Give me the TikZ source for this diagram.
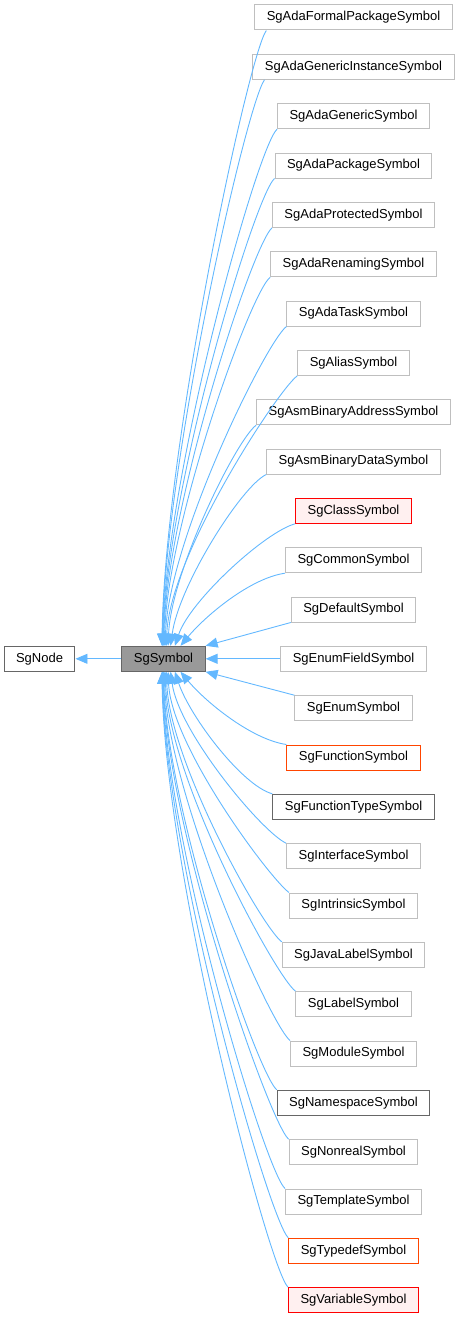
\documentclass[tikz,border=0pt]{standalone}
\usepackage{fontspec}
\setmainfont{Liberation Sans}
\usetikzlibrary{positioning,arrows.meta,calc}

\definecolor{edgeblue}{HTML}{63B8FF}
\definecolor{greyLight}{HTML}{BFBFBF}
\definecolor{greyDark}{HTML}{666666}
\definecolor{greyFill}{HTML}{999999}
\definecolor{truncFill}{HTML}{FFF0F0}
\definecolor{orangeRed}{HTML}{FF4500}

\begin{document}
\begin{tikzpicture}[
  x=1pt,y=1pt,
  font=\fontsize{13}{16}\selectfont,
  cls/.style={draw=greyLight,fill=white,line width=1pt,minimum height=25pt,inner xsep=12pt,inner ysep=0pt},
  docd/.style={cls,draw=greyDark},
  current/.style={cls,draw=greyDark,fill=greyFill},
  trunc/.style={cls,draw=red,fill=truncFill},
  partial/.style={cls,draw=orangeRed},
  inh/.style={draw=edgeblue,line width=.9pt,-{Triangle[length=12pt,width=10pt]}}
]
\useasboundingbox (0,0) rectangle (459,-1319);
% base and current class
\node[docd] (base) at (39.5,-658.8) {SgNode};
\node[current] (sym) at (163.5,-658.8) {SgSymbol};
% derived classes
\node[cls] (c0) at (353.5,-17.5) {SgAdaFormalPackageSymbol};
\node[cls] (c1) at (353.5,-66.8) {SgAdaGenericInstanceSymbol};
\node[cls] (c2) at (353.5,-116.2) {SgAdaGenericSymbol};
\node[cls] (c3) at (353.5,-165.5) {SgAdaPackageSymbol};
\node[cls] (c4) at (353.5,-214.8) {SgAdaProtectedSymbol};
\node[cls] (c5) at (353.5,-264.2) {SgAdaRenamingSymbol};
\node[cls] (c6) at (353.5,-313.5) {SgAdaTaskSymbol};
\node[cls] (c7) at (353.5,-362.8) {SgAliasSymbol};
\node[cls] (c8) at (353.5,-412.2) {SgAsmBinaryAddressSymbol};
\node[cls] (c9) at (353.5,-461.5) {SgAsmBinaryDataSymbol};
\node[trunc] (c10) at (353.5,-510.8) {SgClassSymbol};
\node[cls] (c11) at (353.5,-560.2) {SgCommonSymbol};
\node[cls] (c12) at (353.5,-609.5) {SgDefaultSymbol};
\node[cls] (c13) at (353.5,-658.8) {SgEnumFieldSymbol};
\node[cls] (c14) at (353.5,-708.2) {SgEnumSymbol};
\node[partial] (c15) at (353.5,-757.5) {SgFunctionSymbol};
\node[docd] (c16) at (353.5,-806.8) {SgFunctionTypeSymbol};
\node[cls] (c17) at (353.5,-856.2) {SgInterfaceSymbol};
\node[cls] (c18) at (353.5,-905.5) {SgIntrinsicSymbol};
\node[cls] (c19) at (353.5,-954.8) {SgJavaLabelSymbol};
\node[cls] (c20) at (353.5,-1004.2) {SgLabelSymbol};
\node[cls] (c21) at (353.5,-1053.5) {SgModuleSymbol};
\node[docd] (c22) at (353.5,-1102.8) {SgNamespaceSymbol};
\node[cls] (c23) at (353.5,-1152.2) {SgNonrealSymbol};
\node[cls] (c24) at (353.5,-1201.5) {SgTemplateSymbol};
\node[partial] (c25) at (353.5,-1250.8) {SgTypedefSymbol};
\node[trunc] (c26) at (353.5,-1300.2) {SgVariableSymbol};
% inheritance arrows
\draw[inh] (sym) -- (base);
\draw[inh] ([xshift=12pt]c0.south west) .. controls +(-18,-25) and +(3,200) .. ([xshift=-1.6pt]sym.north);
\draw[inh] ([xshift=12pt]c1.south west) .. controls +(-18,-25) and +(3,185) .. ([xshift=-1.3pt]sym.north);
\draw[inh] (c2.south west) .. controls +(-20,-18) and +(3,170) .. ([xshift=-.9pt]sym.north);
\draw[inh] (c3.south west) .. controls +(-20,-18) and +(3,155) .. ([xshift=-.4pt]sym.north);
\draw[inh] (c4.south west) .. controls +(-20,-18) and +(3,138) .. ([xshift=.1pt]sym.north);
\draw[inh] (c5.south west) .. controls +(-20,-16) and +(3,122) .. ([xshift=.8pt]sym.north);
\draw[inh] (c6.south west) .. controls +(-20,-15) and +(3,106) .. ([xshift=1.7pt]sym.north);
\draw[inh] (c7.south west) .. controls +(-20,-15) and +(3,90) .. ([xshift=2.9pt]sym.north);
\draw[inh] (c8.south west) .. controls +(-20,-15) and +(3,74) .. ([xshift=4.6pt]sym.north);
\draw[inh] (c9.south west) .. controls +(-25,-12) and +(8,60) .. ([xshift=7.1pt]sym.north);
\draw[inh] (c10.south west) .. controls +(-30,-8) and +(15,45) .. ([xshift=11.4pt]sym.north);
\draw[inh] (c11.south west) .. controls +(-35,-5) and +(25,30) .. ([xshift=17pt]sym.north);
\draw[inh] (c12.south west) -- (sym.north east);
\draw[inh] (c13) -- (sym);
\draw[inh] (c14.north west) -- (sym.south east);
\draw[inh] (c15.north west) .. controls +(-35,5) and +(25,-30) .. ([xshift=17pt]sym.south);
\draw[inh] (c16.north west) .. controls +(-30,8) and +(15,-45) .. ([xshift=11.4pt]sym.south);
\draw[inh] (c17.north west) .. controls +(-25,12) and +(8,-60) .. ([xshift=7.1pt]sym.south);
\draw[inh] (c18.north west) .. controls +(-20,15) and +(3,-74) .. ([xshift=4.6pt]sym.south);
\draw[inh] (c19.north west) .. controls +(-20,15) and +(3,-90) .. ([xshift=2.9pt]sym.south);
\draw[inh] (c20.north west) .. controls +(-20,15) and +(3,-106) .. ([xshift=1.7pt]sym.south);
\draw[inh] (c21.north west) .. controls +(-20,16) and +(3,-122) .. ([xshift=.8pt]sym.south);
\draw[inh] (c22.north west) .. controls +(-20,18) and +(3,-138) .. ([xshift=.1pt]sym.south);
\draw[inh] (c23.north west) .. controls +(-20,18) and +(3,-155) .. ([xshift=-.4pt]sym.south);
\draw[inh] (c24.north west) .. controls +(-20,18) and +(3,-170) .. ([xshift=-.9pt]sym.south);
\draw[inh] (c25.north west) .. controls +(-20,20) and +(3,-185) .. ([xshift=-1.3pt]sym.south);
\draw[inh] (c26.north west) .. controls +(-20,20) and +(3,-200) .. ([xshift=-1.6pt]sym.south);
\end{tikzpicture}
\end{document}
